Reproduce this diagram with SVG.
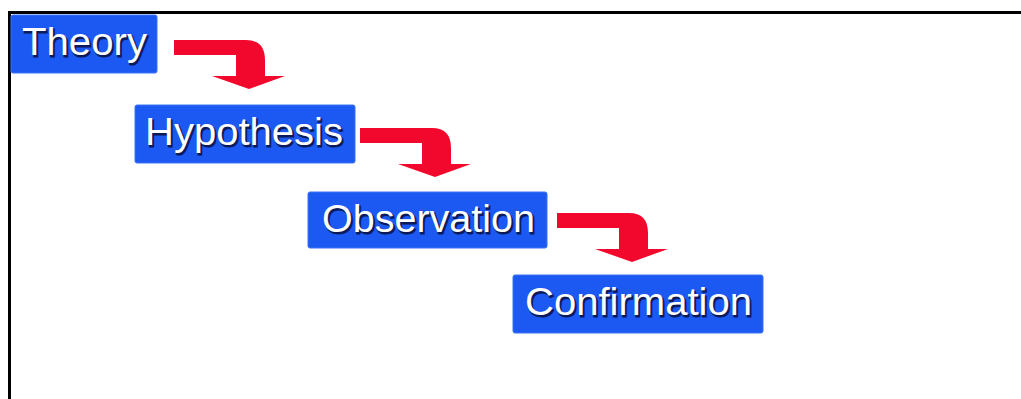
<svg xmlns="http://www.w3.org/2000/svg" width="1021" height="399" viewBox="0 0 1021 399">
<style>
.box{fill:#1c58f2;stroke:#3a72f5;stroke-width:1}
.lbl{font-family:"Liberation Sans",Arial,sans-serif;font-size:38px;text-anchor:middle}
.sh{fill:#0b1b5a;stroke:#0b1b5a;stroke-width:1}
.tx{fill:#ffffff}
.arr{fill:#f2082c}
</style>
<defs>
<path id="bend" d="M0,0 H72 Q91,0 91,20 V36 H111 L75,49 L38,36 H62 V15 H0 Z"/>
</defs>
<rect x="0" y="0" width="1021" height="399" fill="#ffffff"/>
<path d="M9.5,399 V12.5 H1021" fill="none" stroke="#000000" stroke-width="3"/>
<g id="connectors">
<use href="#bend" class="arr" transform="translate(174,40)"/>
<use href="#bend" class="arr" transform="translate(360,128)"/>
<use href="#bend" class="arr" transform="translate(557,213)"/>
</g>
<g id="theory">
<rect class="box" x="11" y="15" width="146" height="58" rx="2"/>
<text class="lbl sh" x="86" y="57" textLength="125" lengthAdjust="spacingAndGlyphs">Theory</text>
<text class="lbl tx" x="84.5" y="55" textLength="125" lengthAdjust="spacingAndGlyphs">Theory</text>
</g>
<g id="hypothesis">
<rect class="box" x="135" y="105" width="220" height="58" rx="2"/>
<text class="lbl sh" x="245.5" y="147" textLength="198" lengthAdjust="spacingAndGlyphs">Hypothesis</text>
<text class="lbl tx" x="244" y="145" textLength="198" lengthAdjust="spacingAndGlyphs">Hypothesis</text>
</g>
<g id="observation">
<rect class="box" x="308" y="192" width="239" height="56" rx="2"/>
<text class="lbl sh" x="430" y="234" textLength="213" lengthAdjust="spacingAndGlyphs">Observation</text>
<text class="lbl tx" x="428.5" y="232" textLength="213" lengthAdjust="spacingAndGlyphs">Observation</text>
</g>
<g id="confirmation">
<rect class="box" x="513" y="275" width="250" height="58" rx="2"/>
<text class="lbl sh" x="640" y="317" textLength="227" lengthAdjust="spacingAndGlyphs">Confirmation</text>
<text class="lbl tx" x="638.5" y="315" textLength="227" lengthAdjust="spacingAndGlyphs">Confirmation</text>
</g>
</svg>
